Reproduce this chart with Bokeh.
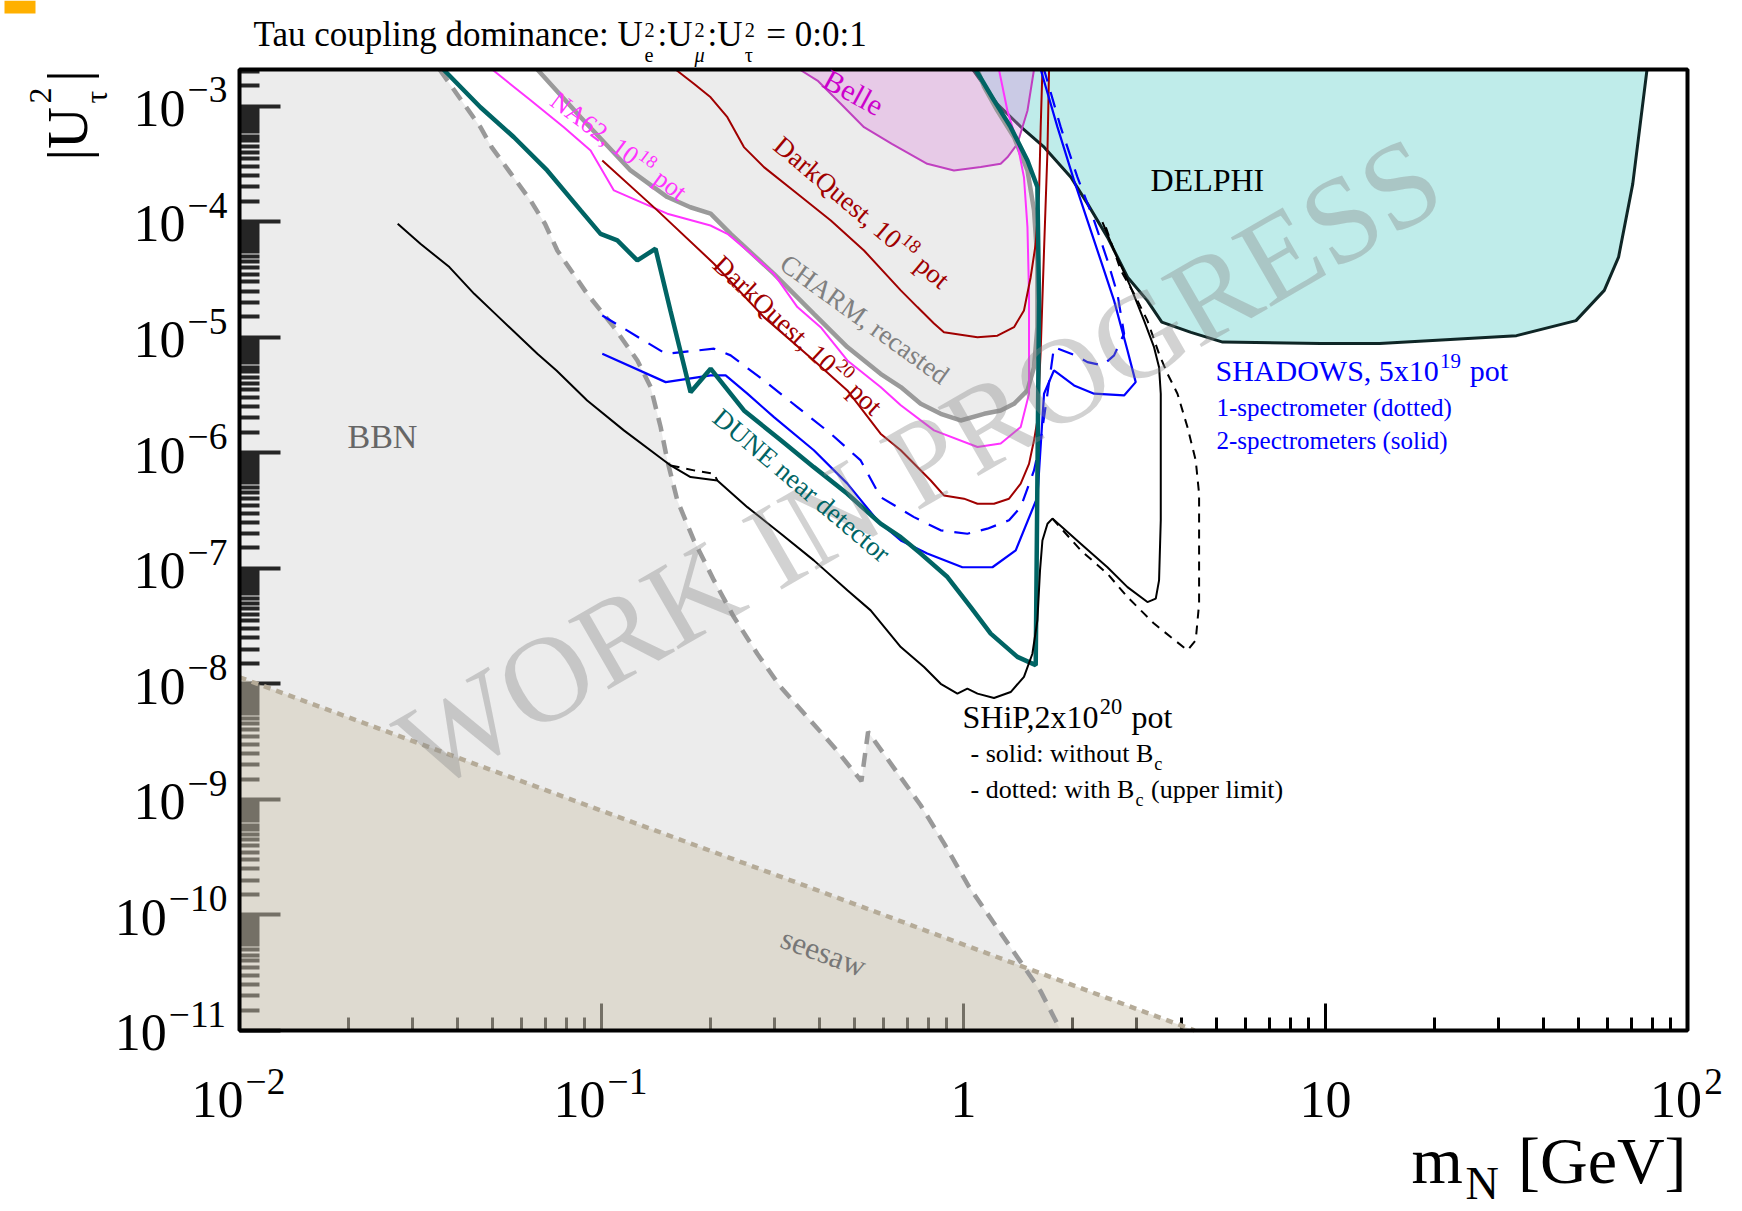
import math
from bokeh.plotting import figure
from bokeh.models import Label, FixedTicker, Range1d, CustomJSTickFormatter, BoxAnnotation
from bokeh.embed import file_html
from bokeh.resources import INLINE

# ------------------------------------------------------------------ data
YTOP = 2.07e-3

x_major = [1e-2, 1e-1, 1.0, 10.0, 100.0]
x_major_text = [("10", "−2"), ("10", "−1"), ("1", ""), ("10", ""), ("10", "2")]
y_major = [1e-11, 1e-10, 1e-9, 1e-8, 1e-7, 1e-6, 1e-5, 1e-4, 1e-3]
y_major_text = ["−11", "−10", "−9", "−8", "−7", "−6", "−5", "−4", "−3"]

bbn_m = [0.0357, 0.0463, 0.0497, 0.0637, 0.0698, 0.0755, 0.0913, 0.1082, 0.1256, 0.1367,
         0.1457, 0.152, 0.162, 0.180, 0.2045, 0.2321, 0.2694, 0.3126, 0.3704, 0.4386,
         0.5224, 0.545, 0.619, 0.7615, 0.887, 1.034, 1.204, 1.403, 1.634, 1.856]
bbn_u = [YTOP, 6.56e-4, 4.41e-4, 1.52e-4, 9.57e-5, 5.62e-5, 2.37e-5, 1.22e-5, 6.28e-6, 3.70e-6,
         1.66e-6, 8.57e-7, 3.86e-7, 1.74e-7, 7.85e-8, 3.78e-8, 1.82e-8, 9.38e-9, 5.16e-9, 2.84e-9,
         1.44e-9, 3.84e-9, 2.2e-9, 8.89e-10, 4.08e-10, 1.77e-10, 8.81e-11, 4.39e-11, 2.18e-11, 1e-11]

seesaw_m = [0.01, 0.355, 4.35]
seesaw_u = [1.14e-8, 1.85e-10, 1e-11]

charm_m = [0.0665, 0.0876, 0.1203, 0.152, 0.176, 0.2002, 0.2274, 0.2995, 0.386, 0.4777,
           0.590, 0.671, 0.7615, 0.865, 0.982, 1.14, 1.267, 1.379, 1.502, 1.566,
           1.60, 1.60, 1.566, 1.502, 1.379, 1.24, 1.14, 1.093]
charm_u = [YTOP, 8.0e-4, 2.77e-4, 1.63e-4, 1.33e-4, 1.17e-4, 7.83e-5, 3.53e-5, 1.59e-5, 8.2e-6,
           4.82e-6, 3.70e-6, 2.65e-6, 2.17e-6, 1.90e-6, 2.17e-6, 2.32e-6, 2.65e-6, 3.46e-6, 5.5e-6,
           1.22e-5, 4.61e-5, 1.25e-4, 2.77e-4, 5.37e-4, 9.14e-4, 1.46e-3, YTOP]

na62_m = [0.0499, 0.0637, 0.0787, 0.0933, 0.1082, 0.1256, 0.152, 0.200, 0.2227, 0.2529,
          0.2995, 0.3476, 0.403, 0.4777, 0.590, 0.671, 0.829, 1.093, 1.267, 1.439,
          1.517, 1.517, 1.502, 1.469, 1.409, 1.322, 1.253]
na62_u = [YTOP, 1.12e-3, 6.56e-4, 4.12e-4, 1.86e-4, 1.52e-4, 1.17e-4, 9.25e-5, 7.83e-5, 5.62e-5,
          3.53e-5, 1.82e-5, 1.22e-5, 6.28e-6, 3.70e-6, 2.57e-6, 1.56e-6, 1.12e-6, 1.20e-6, 1.67e-6,
          3.24e-6, 2.37e-5, 8.95e-5, 2.42e-4, 4.71e-4, 9.14e-4, YTOP]

dq18_m = [0.1602, 0.180, 0.2002, 0.2227, 0.2474, 0.281, 0.3476, 0.43, 0.531, 0.671,
          0.746, 0.829, 0.883, 1.093, 1.241, 1.379, 1.469, 1.533, 1.583, 1.617, 1.634, 1.652]
dq18_u = [YTOP, 1.56e-3, 1.19e-3, 8.0e-4, 4.41e-4, 2.96e-4, 1.74e-4, 1.02e-4, 5.62e-5, 2.54e-5,
          1.82e-5, 1.31e-5, 1.10e-5, 1.0e-5, 1.03e-5, 1.22e-5, 1.70e-5, 3.30e-5, 6.43e-5, 1.74e-4,
          6.56e-4, YTOP]

dq20_m = [0.1005, 0.1426, 0.2045, 0.281, 0.386, 0.4777, 0.590, 0.671, 0.812, 0.883,
          1.003, 1.093, 1.214, 1.336, 1.439, 1.517, 1.566, 1.60, 1.634, 1.669, 1.706, 1.723]
dq20_u = [3.38e-4, 1.25e-4, 4.32e-5, 1.49e-5, 6.28e-6, 3.46e-6, 1.46e-6, 1.05e-6, 5.75e-7, 4.27e-7,
          4.0e-7, 3.62e-7, 3.62e-7, 4.0e-7, 5.4e-7, 8.0e-7, 1.28e-6, 1.9e-6, 7.67e-6, 5.62e-5,
          4.12e-4, YTOP]

dune_m = [0.0366, 0.0463, 0.0573, 0.0708, 0.0876, 0.0994, 0.1106, 0.1256, 0.141, 0.155,
          0.1762, 0.2002, 0.2474, 0.313, 0.386, 0.4777, 0.590, 0.671, 0.7615, 0.903,
          1.047, 1.189, 1.409, 1.583, 1.60, 1.617, 1.60, 1.502, 1.35, 1.214, 1.08]
dune_u = [YTOP, 9.76e-4, 5.37e-4, 2.77e-4, 1.25e-4, 7.83e-5, 6.87e-5, 4.61e-5, 5.82e-5, 1.70e-5,
          3.34e-6, 5.33e-6, 2.32e-6, 1.28e-6, 7.5e-7, 4.41e-7, 2.43e-7, 1.86e-7, 1.34e-7, 8.4e-8,
          4.61e-8, 2.72e-8, 1.71e-8, 1.45e-8, 5.75e-7, 2.07e-5, 1.99e-4, 3.38e-4, 6.56e-4, 1.12e-3, YTOP]

shadows2_m = [0.1005, 0.1504, 0.2002, 0.2203, 0.2529, 0.2995, 0.386, 0.4777, 0.578, 0.671,
              0.794, 0.993, 1.202, 1.394, 1.60, 1.669, 1.778, 2.02, 2.295, 2.777,
              2.99, 2.838, 2.606, 2.394, 2.2, 2.02, 1.818, 1.634]
shadows2_u = [7.18e-6, 4.08e-6, 4.67e-6, 4.67e-6, 3.24e-6, 2.03e-6, 1.05e-6, 5.4e-7, 2.6e-7, 1.74e-7,
              1.34e-7, 1.02e-7, 1.02e-7, 1.43e-7, 4.13e-7, 3.24e-6, 5.15e-6, 3.82e-6, 3.24e-6, 3.13e-6,
              4.08e-6, 7.67e-6, 2.07e-5, 4.61e-5, 1.02e-4, 2.27e-4, 6.56e-4, YTOP]

shadows1_m = [0.1005, 0.1504, 0.2045, 0.2274, 0.281, 0.3476, 0.43, 0.52, 0.590, 0.730,
              0.865, 1.025, 1.164, 1.336, 1.439, 1.566, 1.634, 1.706, 1.778, 2.042,
              2.2, 2.42, 2.606, 2.777, 2.662, 2.498, 2.295, 2.064, 1.856, 1.669]
shadows1_u = [1.54e-5, 7.18e-6, 7.94e-6, 6.95e-6, 4.22e-6, 2.48e-6, 1.46e-6, 8.57e-7, 4.13e-7, 2.77e-7,
              2.13e-7, 1.99e-7, 2.2e-7, 2.6e-7, 3.38e-7, 7.03e-7, 1.28e-6, 3.24e-6, 8.18e-6, 6.95e-6,
              6.08e-6, 5.69e-6, 6.95e-6, 1.07e-5, 2.37e-5, 4.61e-5, 1.02e-4, 2.42e-4, 6.56e-4, YTOP]

ship_m = [0.02735, 0.0294, 0.0316, 0.038, 0.0445, 0.0509, 0.0665, 0.0751, 0.0913, 0.1153,
          0.1488, 0.1552, 0.1762, 0.2089, 0.2529, 0.313, 0.386, 0.4777, 0.554, 0.671,
          0.778, 0.865, 0.962, 1.025, 1.093, 1.214, 1.35, 1.469, 1.55, 1.60,
          1.627, 1.652, 1.706, 1.76, 2.108, 2.498, 2.838, 3.222, 3.397, 3.469,
          3.507, 3.507, 3.507, 3.469, 3.36, 3.154, 2.897, 2.606, 2.42]
ship_u = [9.57e-5, 7.83e-5, 6.43e-5, 4.04e-5, 2.37e-5, 1.59e-5, 7.18e-6, 5.15e-6, 2.83e-6, 1.56e-6,
          8.57e-7, 7.76e-7, 6.15e-7, 5.75e-7, 3.38e-7, 1.99e-7, 1.17e-7, 6.44e-8, 4.32e-8, 2.08e-8,
          1.40e-8, 1.0e-8, 8.23e-9, 9.08e-9, 8.23e-9, 7.53e-9, 8.49e-9, 1.15e-8, 1.82e-8, 3.54e-8,
          9.6e-8, 1.74e-7, 2.43e-7, 2.69e-7, 1.63e-7, 1.02e-7, 6.87e-8, 5.1e-8, 5.46e-8, 7.85e-8,
          2.6e-7, 1.9e-6, 3.24e-6, 5.5e-6, 8.18e-6, 1.39e-5, 2.71e-5, 5.62e-5, 9.88e-5]

ship_bc_branch_m = [0.1552, 0.18, 0.2045, 0.2089]
ship_bc_branch_u = [7.76e-7, 7.03e-7, 6.58e-7, 5.75e-7]
ship_bc_m = [1.76, 2.108, 2.498, 2.838, 3.154, 3.36, 3.737, 4.157, 4.38, 4.475,
             4.475, 4.475, 4.38, 4.157, 3.9, 3.66, 3.469, 3.222, 2.96, 2.72, 2.445]
ship_bc_u = [2.69e-7, 1.43e-7, 8.97e-8, 5.63e-8, 4.05e-8, 3.32e-8, 2.54e-8, 1.95e-8, 2.38e-8, 4.94e-8,
             2.6e-7, 4.41e-7, 8.57e-7, 1.66e-6, 3.24e-6, 4.82e-6, 7.18e-6, 1.39e-5, 2.37e-5, 3.78e-5, 9.88e-5]

belle_m = [0.3526, 0.395, 0.458, 0.531, 0.634, 0.794, 0.941, 1.116, 1.267, 1.322, 1.409, 1.502, 1.566]
belle_u = [YTOP, 1.66e-3, 1.045e-3, 6.56e-4, 4.71e-4, 3.16e-4, 2.77e-4, 2.96e-4, 3.16e-4, 3.6e-4,
           4.71e-4, 9.1e-4, YTOP]

delphi_m = [1.06, 1.24, 1.44, 1.67, 1.98, 2.2, 2.5, 2.84, 3.22, 3.53,
            4.25, 5.2, 9.7, 14.1, 33.7, 49.2, 58.9, 64.5, 70.6, 77.3]
delphi_u = [YTOP, 1.04e-3, 6.6e-4, 4.4e-4, 2.42e-4, 1.43e-4, 7.3e-5, 3.3e-5, 2.07e-5, 1.35e-5,
            1.1e-5, 9.06e-6, 8.8e-6, 8.8e-6, 1.03e-5, 1.39e-5, 2.54e-5, 4.92e-5, 2.12e-4, YTOP]

# ------------------------------------------------------------------ geometry (page pixels)
W, H = 1740, 1209
SL, SB = 4, 3                      # small side panels holding the axes
FL, FR, FT, FB = 239.0, 1687.0, 69.0, 1030.0   # the plotting box on the page
LX0, LX1 = -2.0, 2.0
LY0, LY1 = -11.0, math.log10(YTOP)
DEC_X = (FR - FL) / (LX1 - LX0)
DEC_Y = (FB - FT) / (LY1 - LY0)
FONT = "Liberation Serif"
BASE_FIX = 0.34     # the renderer places "alphabetic" text this many em too low


def to_data(X, Y):
    return 10 ** (LX0 + (X - FL) / DEC_X), 10 ** (LY0 + (FB - Y) / DEC_Y)


def page_x(v):
    return FL + (math.log10(v) - LX0) * DEC_X


def page_y(v):
    return FB - (math.log10(v) - LY0) * DEC_Y


x_lo, _ = to_data(SL, 0)
x_hi, _ = to_data(W, 0)
_, y_lo = to_data(0, H - SB)
_, y_hi = to_data(0, 0)

TW = {' ': 250, '\u00a0': 250, '!': 333, '(': 333, ')': 333, ',': 250, '-': 333, '.': 250,
      ':': 278, '=': 564, '|': 200, '[': 333, ']': 333, '−': 564, 'μ': 500, 'τ': 440,
      'A': 722, 'B': 667, 'C': 667, 'D': 722, 'E': 611, 'F': 556, 'G': 722, 'H': 722, 'I': 333,
      'J': 389, 'K': 722, 'L': 611, 'M': 889, 'N': 722, 'O': 722, 'P': 556, 'Q': 722, 'R': 667,
      'S': 556, 'T': 611, 'U': 722, 'V': 722, 'W': 944, 'X': 722, 'Y': 722, 'Z': 611,
      'a': 444, 'b': 500, 'c': 444, 'd': 500, 'e': 444, 'f': 333, 'g': 500, 'h': 500, 'i': 278,
      'j': 278, 'k': 500, 'l': 278, 'm': 778, 'n': 500, 'o': 500, 'p': 500, 'q': 500, 'r': 333,
      's': 389, 't': 278, 'u': 500, 'v': 500, 'w': 722, 'x': 500, 'y': 500, 'z': 444}
for _d in "0123456789":
    TW[_d] = 500
KERN = {"P,": -111, "Ta": -80}


def tw(s, size):
    units = sum(TW.get(ch, 500) for ch in s)
    units += sum(KERN.get(s[i:i + 2], 0) for i in range(len(s) - 1))
    return units * size / 1000.0


p = figure(width=W, height=H, x_axis_type="log", y_axis_type="log",
           x_range=Range1d(x_lo, x_hi), y_range=Range1d(y_lo, y_hi),
           output_backend="svg", toolbar_location=None,
           min_border_left=SL, min_border_right=0, min_border_top=0, min_border_bottom=SB)
p.background_fill_color = "white"
p.border_fill_color = "white"
p.outline_line_color = None
p.grid.visible = False

blank = CustomJSTickFormatter(code="return '';")
x_minor = [k * 10.0 ** e for e in range(-2, 2) for k in range(2, 10)]
y_minor = [k / 2.0 * 10.0 ** e for e in range(-11, -2) for k in range(3, 20)]
y_minor = [v for v in y_minor if v < YTOP and abs(math.log10(v) - round(math.log10(v))) > 1e-6]

p.xaxis.ticker = FixedTicker(ticks=x_major, minor_ticks=x_minor)
p.yaxis.ticker = FixedTicker(ticks=y_major, minor_ticks=y_minor)
p.xaxis.fixed_location = 1e-11
p.yaxis.fixed_location = 1e-2
p.xaxis.bounds = (1e-2, 1e2)
p.yaxis.bounds = (1e-11, YTOP)
for ax in (p.xaxis[0], p.yaxis[0]):
    ax.formatter = blank
    ax.major_label_text_font_size = "0px"
    ax.major_label_standoff = 0
    ax.major_tick_out = 0
    ax.minor_tick_out = 0
    ax.axis_line_color = None
    ax.major_tick_line_color = "black"
    ax.minor_tick_line_color = "black"
    ax.level = "underlay"
p.xaxis.major_tick_in = 27
p.xaxis.minor_tick_in = 13
p.xaxis.major_tick_line_width = 3
p.xaxis.minor_tick_line_width = 3
p.yaxis.major_tick_in = 41
p.yaxis.minor_tick_in = 20
p.yaxis.major_tick_line_width = 4
p.yaxis.minor_tick_line_width = 4


def put(X, Y, parts, size, color, align="left", angle=0.0, vcenter=False, alpha=1.0,
        sup_scale=0.7, sup_raise=0.42, sub_drop=0.22, ss_scale=0.6, ss_up=0.3, ss_down=0.38,
        ss_pad=0.3):
    items = []
    d = 0.0
    for part in parts:
        kind = part[1] if len(part) > 1 else "n"
        style = part[2] if len(part) > 2 else "normal"
        if kind == "n":
            items.append((part[0], d, 0.0, size, style))
            d += tw(part[0], size)
        elif kind in ("sup", "sub"):
            s2 = size * sup_scale
            r = sup_raise * size if kind == "sup" else -sub_drop * size
            d += 0.04 * size
            items.append((part[0], d, r, s2, style))
            d += tw(part[0], s2) + 0.04 * size
        elif kind == "ss":
            up, dn = part[0]
            s2 = size * ss_scale
            d += 0.06 * size
            items.append((up, d, ss_up * size, s2, "normal"))
            items.append((dn, d, -ss_down * size, s2, style))
            d += max(tw(up, s2), tw(dn, s2)) + ss_pad * size
    total = d
    start = {"left": 0.0, "center": -total / 2.0, "right": -total}[align]
    r0 = -0.33 * size if vcenter else 0.0
    x, y = to_data(X, Y)
    ca, sa = math.cos(angle), math.sin(angle)
    for (t, dd, rr, s2, st) in items:
        a = start + dd
        r = rr + r0 + BASE_FIX * s2
        p.add_layout(Label(x=x, y=y, x_offset=a * ca - r * sa, y_offset=a * sa + r * ca,
                           text=t.replace(" ", "\u00a0"), angle=angle, text_font=FONT,
                           text_font_size="%.1fpx" % s2, text_color=color, text_alpha=alpha,
                           text_baseline="alphabetic", text_align="left", text_font_style=st))


# ------------------------------------------------------------------ filled regions
p.patch([0.01] + bbn_m + [0.01], [YTOP] + bbn_u + [1e-11],
        fill_color=(170, 170, 170), fill_alpha=0.22, line_color=None)
p.patch(charm_m, charm_u, fill_color=(170, 170, 170), fill_alpha=0.22, line_color=None)
p.patch(seesaw_m + [0.01], seesaw_u + [1e-11],
        fill_color=(206, 197, 176), fill_alpha=0.47, line_color=None)
p.patch(delphi_m, delphi_u, fill_color=(191, 236, 234), fill_alpha=1.0,
        line_color="#0f2626", line_width=3)
p.patch(belle_m, belle_u, fill_color=(222, 140, 222), fill_alpha=0.36,
        line_color="#c040c0", line_width=2)

# ------------------------------------------------------------------ curves
p.line(bbn_m, bbn_u, line_color="#999999", line_width=4.5, line_dash="14 9")
p.line(seesaw_m, seesaw_u, line_color="#b5ab98", line_width=4.5, line_dash="7 6")
p.line(charm_m, charm_u, line_color="#9a9a9a", line_width=4.5)
p.line(na62_m, na62_u, line_color="#ff33ff", line_width=2)
p.line(dq18_m, dq18_u, line_color="#a00000", line_width=2)
p.line(dq20_m, dq20_u, line_color="#a00000", line_width=2)
p.line(shadows1_m, shadows1_u, line_color="#0000ff", line_width=2.2, line_dash="16 11")
p.line(shadows2_m, shadows2_u, line_color="#0000ff", line_width=2.2)
p.line(dune_m, dune_u, line_color="#006464", line_width=4.5)
p.line(ship_bc_branch_m, ship_bc_branch_u, line_color="black", line_width=2, line_dash="9 7")
p.line(ship_bc_m, ship_bc_u, line_color="black", line_width=2, line_dash="9 7")
p.line(ship_m, ship_u, line_color="black", line_width=2)

# ------------------------------------------------------------------ frame box and corner mark
p.add_layout(BoxAnnotation(left=1e-2, right=1e2, bottom=1e-11, top=YTOP,
                           fill_color=None, fill_alpha=0.0,
                           line_color="black", line_alpha=1.0, line_width=4))
cx0, cy0 = to_data(0, 0)
cx1, cy1 = to_data(35, 13)
p.add_layout(BoxAnnotation(left=cx0, right=cx1, bottom=cy1, top=cy0,
                           fill_color="#ffb000", fill_alpha=1.0, line_color=None))

# ------------------------------------------------------------------ watermark
wx, wy = to_data(918, 462)
p.add_layout(Label(x=wx, y=wy, text="WORK IN PROGRESS", angle=0.524, text_align="center",
                   text_baseline="middle", text_font=FONT, text_font_size="122px",
                   text_color="#8a8a8a", text_alpha=0.38))

# ------------------------------------------------------------------ tick labels
for v, (base, ex) in zip(x_major, x_major_text):
    parts = [(base, "n")] + ([(ex, "sup")] if ex else [])
    put(page_x(v), 1117, parts, 52, "black", align="center", sup_scale=0.72, sup_raise=0.45)
for v, ex in zip(y_major, y_major_text):
    put(229, page_y(v) + 20, [("10", "n"), (ex, "sup")], 52, "black", align="right",
        sup_scale=0.72, sup_raise=0.45)

# ------------------------------------------------------------------ axis titles & title
put(253, 46, [("Tau coupling dominance: U", "n"), (("2", "e"), "ss"), (":U", "n"),
              (("2", "μ"), "ss", "italic"), (":U", "n"), (("2", "τ"), "ss"), (" = 0:0:1", "n")],
    35, "black", ss_scale=0.58, ss_up=0.27, ss_down=0.43, ss_pad=0.08)
put(87, 160, [("|U", "n"), (("2", "τ"), "ss"), ("|", "n")], 58, "black", angle=math.pi / 2,
    ss_scale=0.55, ss_up=0.62, ss_down=0.35, ss_pad=0.1)
put(1411, 1182, [("m", "n"), ("N", "sub"), (" [GeV]", "n")], 66, "black", sub_drop=0.25)

# ------------------------------------------------------------------ region / curve labels
put(347, 448, [("BBN", "n")], 34, "#666666")
put(823, 952, [("seesaw", "n")], 31, "#777777", align="center", angle=-0.354, vcenter=True)
put(1150, 190, [("DELPHI", "n")], 32, "black")
put(853, 92, [("Belle", "n")], 30, "#cc00cc", align="center", angle=-0.50, vcenter=True)
put(618, 146, [("NA62, 10", "n"), ("18", "sup"), (" pot", "n")], 26, "#ff33ff",
    align="center", angle=-0.643, vcenter=True)
put(861, 212, [("DarkQuest, 10", "n"), ("18", "sup"), (" pot", "n")], 27, "#a00000",
    align="center", angle=-0.70, vcenter=True)
put(797, 335, [("DarkQuest, 10", "n"), ("20", "sup"), (" pot", "n")], 27, "#a00000",
    align="center", angle=-0.75, vcenter=True)
put(864, 319, [("CHARM, recasted", "n")], 27, "#808080", align="center", angle=-0.625,
    vcenter=True)
put(801, 485, [("DUNE near detector", "n")], 27, "#006464", align="center", angle=-0.70,
    vcenter=True)

put(1215, 380, [("SHADOWS, 5x10", "n"), ("19", "sup"), (" pot", "n")], 30, "#0000ff")
put(1216, 415, [("1-spectrometer (dotted)", "n")], 25, "#0000ff")
put(1216, 448, [("2-spectrometers (solid)", "n")], 25, "#0000ff")

put(962, 727, [("SHiP,2x10", "n"), ("20", "sup"), (" pot", "n")], 32, "black")
put(970, 762, [("- solid: without B", "n"), ("c", "sub")], 26, "black", sub_drop=0.3)
put(970, 798, [("- dotted: with B", "n"), ("c", "sub"), (" (upper limit)", "n")], 26, "black",
    sub_drop=0.3)

open("out.html", "w").write(file_html(p, INLINE))
